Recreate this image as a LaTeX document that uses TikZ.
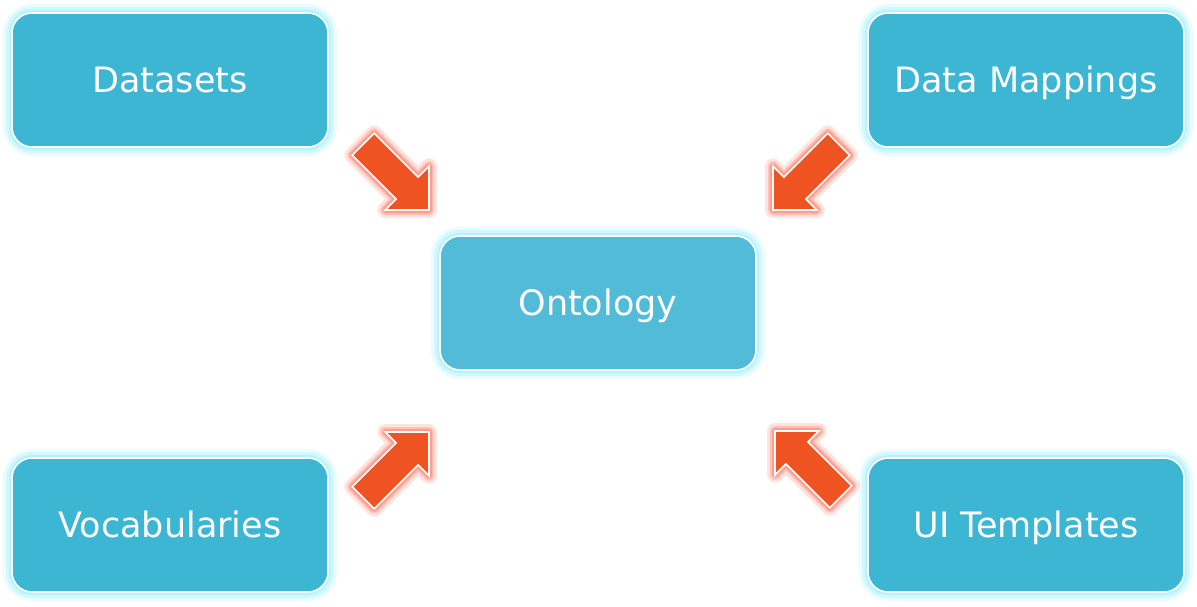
\documentclass[tikz,border=0pt]{standalone}
\usepackage{fontspec}
\setmainfont{DejaVu Sans}

\definecolor{boxblue}{HTML}{3DB6D3}
\definecolor{ontoblue}{HTML}{52BCD8}
\definecolor{glowcyan}{HTML}{B0F2FF}
\definecolor{arrowred}{HTML}{F05322}
\definecolor{glowred}{HTML}{FF8E7C}

\tikzset{
    box/.style={rectangle, rounded corners=10pt, fill=boxblue, draw=white, line width=0.8pt,
        text=white, font=\fontsize{17.5}{21}\selectfont, text height=16.6pt, text depth=3.85pt,
        minimum width=158pt, minimum height=67pt,
        preaction={draw=glowcyan, line width=9pt, opacity=0.25},
        preaction={draw=glowcyan, line width=6pt, opacity=0.45},
        preaction={draw=glowcyan, line width=3pt, opacity=0.8}},
    fatarrow/.style={fill=arrowred, draw=white, line width=0.8pt, line join=miter,
        preaction={draw=glowred, line width=8pt, opacity=0.25, line join=round},
        preaction={draw=glowred, line width=5pt, opacity=0.4, line join=round},
        preaction={draw=glowred, line width=3pt, opacity=0.7, line join=round}}
}

\begin{document}
\begin{tikzpicture}[x=0.5pt, y=-0.5pt]
    \useasboundingbox (0,0) rectangle (1197,606);
    % centre
    \node[box, fill=ontoblue] (ontology) at (598,303) {Ontology};
    % sources
    \foreach \name/\pos/\txt in {datasets/{(170,80)}/Datasets, mappings/{(1026,80)}/Data Mappings,
        vocab/{(170,525)}/Vocabularies, templates/{(1026,525)}/UI Templates}{
        \node[box] (\name) at \pos {\txt};
    }
    % arrows, tip at (\x,\y)
    \foreach \x/\y/\ang in {429/210/-45, 773/210/-135, 429/432/45, 775/431/135}{
        \draw[fatarrow, shift={(\x,\y)}, rotate=\ang]
            (0,0) -- (-31,31) -- (-31,15.5) -- (-93,15.5)
            -- (-93,-15.5) -- (-31,-15.5) -- (-31,-31) -- cycle;
    }
\end{tikzpicture}
\end{document}
